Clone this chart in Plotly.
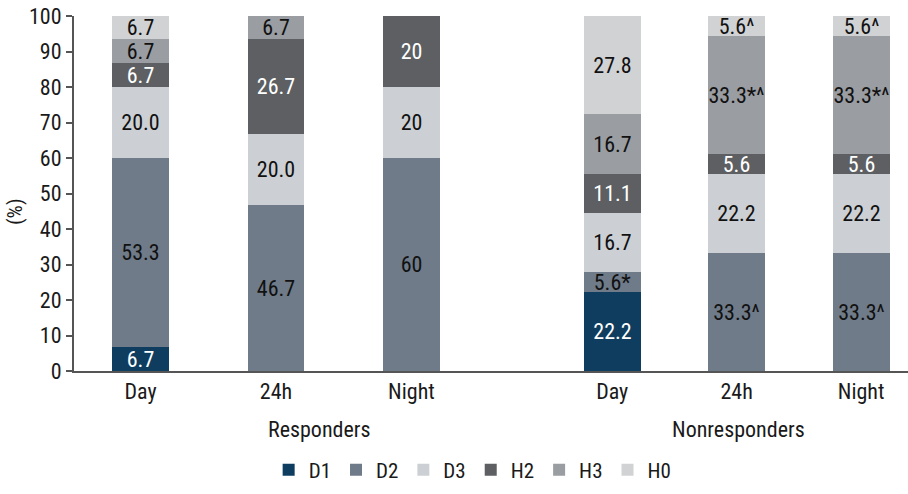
import plotly.graph_objects as go

# ---- data ----
groups = ["Responders", "Nonresponders"]
periods = ["Day", "24h", "Night"]
series = ["D1", "D2", "D3", "H2", "H3", "H0"]

# values per series, order: Resp Day, Resp 24h, Resp Night, Nonresp Day, Nonresp 24h, Nonresp Night
D1 = [6.7, 0, 0, 22.2, 0, 0]
D2 = [53.3, 46.7, 60, 5.6, 33.3, 33.3]
D3 = [20.0, 20.0, 20, 16.7, 22.2, 22.2]
H2 = [6.7, 26.7, 20, 11.1, 5.6, 5.6]
H3 = [6.7, 6.7, 0, 16.7, 33.3, 33.3]
H0 = [6.7, 0, 0, 27.8, 5.6, 5.6]

D1_text = ["6.7", "", "", "22.2", "", ""]
D2_text = ["53.3", "46.7", "60", "5.6*", "33.3^", "33.3^"]
D3_text = ["20.0", "20.0", "20", "16.7", "22.2", "22.2"]
H2_text = ["6.7", "26.7", "20", "11.1", "5.6", "5.6"]
H3_text = ["6.7", "6.7", "", "16.7", "33.3*^", "33.3*^"]
H0_text = ["6.7", "", "", "27.8", "5.6^", "5.6^"]

yticks = [0, 10, 20, 30, 40, 50, 60, 70, 80, 90, 100]
y_title = "(%)"

# ---- style / layout ----
FONT = "Liberation Sans Narrow, Roboto Condensed, Arial Narrow, Liberation Sans, sans-serif"
colors = {"D1": "#0e3d60", "D2": "#6f7b89", "D3": "#ccd0d4",
          "H2": "#5d5f63", "H3": "#9a9da2", "H0": "#d1d2d4"}
textcolors = {"D1": "white", "D2": "#111", "D3": "#111",
              "H2": "white", "H3": "#111", "H0": "#111"}
GROUP_START = [0.0, 3.6875]     # slot where each group begins
GROUP_STEP = [1.059, 0.973]     # spacing between bars within each group

xpos = []
ticktext = []
for g, _ in enumerate(groups):
    for i, p in enumerate(periods):
        xpos.append(GROUP_START[g] + i * GROUP_STEP[g])
        ticktext.append(p)

values = {"D1": D1, "D2": D2, "D3": D3, "H2": H2, "H3": H3, "H0": H0}
texts = {"D1": D1_text, "D2": D2_text, "D3": D3_text,
         "H2": H2_text, "H3": H3_text, "H0": H0_text}

fig = go.Figure()
for s in series:
    fig.add_trace(go.Bar(
        name=s, x=xpos, y=values[s], text=texts[s],
        marker=dict(color=colors[s], line=dict(width=0)),
        width=0.445,
        textposition="inside", insidetextanchor="middle", textangle=0,
        textfont=dict(family=FONT, size=22, color=textcolors[s]),
        hoverinfo="name+y",
    ))

fig.update_layout(
    barmode="stack",
    width=908, height=494,
    margin=dict(l=74, r=0, t=16, b=123),
    paper_bgcolor="white", plot_bgcolor="white",
    font=dict(family=FONT, color="#1a1a1a", size=22),
    uniformtext=dict(mode="show", minsize=22),
    showlegend=True,
    legend=dict(orientation="h", x=0.478, xanchor="center", y=-0.279, yanchor="middle",
                font=dict(family=FONT, size=21, color="#1a1a1a"),
                itemwidth=30, tracegroupgap=0, traceorder="normal"),
    xaxis=dict(range=[-0.52, 6.0], tickvals=xpos, ticktext=ticktext,
               showgrid=False, zeroline=False, showline=True, linecolor="#555",
               linewidth=2, ticks="", tickfont=dict(size=22)),
    yaxis=dict(range=[0, 100], tickvals=yticks, showgrid=False, zeroline=False,
               showline=True, linecolor="#555", linewidth=2, ticks="outside",
               ticklen=6, tickcolor="#555", tickwidth=2, tickfont=dict(size=22)),
    bargap=0,
)

fig.add_annotation(text=y_title, xref="paper", yref="paper", x=-0.0707, y=0.448,
                   textangle=-90, showarrow=False, font=dict(size=21),
                   xanchor="center", yanchor="middle")
fig.add_annotation(text=groups[0], xref="paper", yref="paper", x=0.2945, y=-0.166,
                   showarrow=False, font=dict(size=22), xanchor="center", yanchor="middle")
fig.add_annotation(text=groups[1], xref="paper", yref="paper", x=0.7962, y=-0.166,
                   showarrow=False, font=dict(size=22), xanchor="center", yanchor="middle")

fig.write_html("out.html")
